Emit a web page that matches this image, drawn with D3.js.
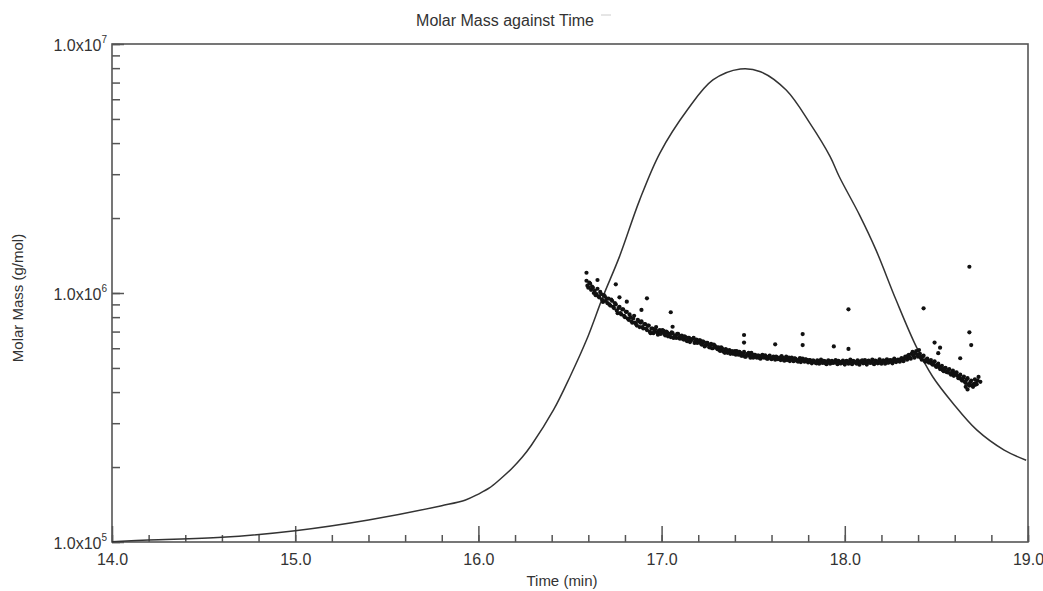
<!DOCTYPE html>
<html>
<head>
<meta charset="utf-8">
<title>Molar Mass against Time</title>
<style>
  body { margin: 0; background: #fff; }
  text { font-family: "Liberation Sans", Arial, sans-serif; fill: #333; }
  .axis path { display: none; }
  .axis line { stroke: #555; stroke-width: 1.5; }
</style>
</head>
<body>
<script src="https://cdn.jsdelivr.net/npm/d3@7"></script>
<script>
// chart titles
var chartTitle = "Molar Mass against Time";
var xLabel = "Time (min)";
var yLabel = "Molar Mass (g/mol)";

// axis ticks
var xTickValues = [14, 15, 16, 17, 18, 19];
var yTickExponents = [5, 6, 7];

// detector trace, time (min) and molar mass scale (g/mol)
var traceTime = [14.0, 14.2, 14.6, 15.0, 15.4, 15.8, 15.93, 16.0, 16.06, 16.12, 16.18, 16.24, 16.29, 16.41,
  16.50, 16.59, 16.68, 16.77, 16.88, 16.99, 17.14, 17.28, 17.43, 17.54, 17.68, 17.81, 17.92, 17.97,
  18.08, 18.17, 18.28, 18.39, 18.48, 18.59, 18.72, 18.87, 18.99];
var traceMass = [1.003e5, 1.019e5, 1.044e5, 1.11e5, 1.226e5, 1.399e5, 1.475e5, 1.558e5, 1.648e5, 1.791e5,
  1.965e5, 2.194e5, 2.453e5, 3.39e5, 4.61e5, 6.47e5, 9.67e5, 1.40e6, 2.36e6, 3.64e6, 5.43e6, 7.17e6,
  7.94e6, 7.74e6, 6.53e6, 4.80e6, 3.53e6, 2.93e6, 2.06e6, 1.49e6, 9.37e5, 6.09e5, 4.61e5, 3.61e5,
  2.82e5, 2.34e5, 2.13e5];

// molar mass points: [time (min), molar mass in units of 1e5 g/mol]
var massPoints = [
  [16.59, 11.2], [16.60, 10.5], [16.61, 10.9], [16.62, 10.6], [16.63, 10.0], [16.64, 9.8], [16.65, 10.4],
  [16.66, 9.6], [16.67, 9.9], [16.68, 9.2], [16.69, 9.7], [16.70, 9.5],
  [16.71, 9.5], [16.72, 8.9], [16.73, 9.3], [16.74, 8.7], [16.75, 9.0], [16.76, 8.3], [16.77, 8.8],
  [16.78, 8.2], [16.79, 8.6], [16.80, 8.0],
  [16.81, 8.4], [16.82, 7.8], [16.83, 8.0], [16.84, 7.6], [16.85, 8.1], [16.86, 7.5], [16.87, 7.8],
  [16.88, 7.3], [16.89, 7.7], [16.90, 7.2],
  [16.91, 7.5], [16.92, 7.1], [16.93, 7.4], [16.94, 6.9], [16.95, 7.2], [16.96, 7.0], [16.97, 7.3],
  [16.98, 6.8], [16.99, 7.1], [17.00, 6.95],
  [17.01, 7.05], [17.02, 6.75], [17.03, 6.95], [17.04, 6.85], [17.05, 6.65], [17.06, 6.9], [17.07, 6.7],
  [17.08, 6.6], [17.09, 6.85], [17.10, 6.55],
  [17.11, 6.75], [17.12, 6.5], [17.13, 6.65], [17.14, 6.4], [17.15, 6.6], [17.16, 6.45], [17.17, 6.55],
  [17.18, 6.3], [17.19, 6.5], [17.20, 6.35],
  [17.21, 6.45], [17.22, 6.2], [17.23, 6.35], [17.24, 6.15], [17.25, 6.3], [17.26, 6.05], [17.27, 6.25],
  [17.28, 6.0], [17.29, 6.15], [17.30, 6.05],
  [17.31, 6.05], [17.32, 5.85], [17.33, 6.0], [17.34, 5.8], [17.35, 5.95], [17.36, 5.75], [17.37, 5.9],
  [17.38, 5.8], [17.39, 5.7], [17.40, 5.85],
  [17.41, 5.85], [17.42, 5.65], [17.43, 5.75], [17.44, 5.6], [17.45, 5.8], [17.46, 5.55], [17.47, 5.7],
  [17.48, 5.6], [17.49, 5.75], [17.50, 5.5],
  [17.51, 5.65], [17.52, 5.5], [17.53, 5.6], [17.54, 5.45], [17.55, 5.65], [17.56, 5.5], [17.57, 5.55],
  [17.58, 5.45], [17.59, 5.6], [17.60, 5.42],
  [17.61, 5.55], [17.62, 5.4], [17.63, 5.52], [17.64, 5.45], [17.65, 5.38], [17.66, 5.5], [17.67, 5.35],
  [17.68, 5.55], [17.69, 5.42], [17.70, 5.33],
  [17.71, 5.5], [17.72, 5.32], [17.73, 5.45], [17.74, 5.35], [17.75, 5.42], [17.76, 5.28], [17.77, 5.45],
  [17.78, 5.3], [17.79, 5.4], [17.80, 5.26],
  [17.81, 5.38], [17.82, 5.22], [17.83, 5.35], [17.84, 5.25], [17.85, 5.36], [17.86, 5.2], [17.87, 5.4],
  [17.88, 5.24], [17.89, 5.33], [17.90, 5.18],
  [17.91, 5.36], [17.92, 5.2], [17.93, 5.34], [17.94, 5.25], [17.95, 5.38], [17.96, 5.18], [17.97, 5.3],
  [17.98, 5.22], [17.99, 5.35], [18.00, 5.16],
  [18.01, 5.34], [18.02, 5.2], [18.03, 5.4], [18.04, 5.18], [18.05, 5.32], [18.06, 5.25], [18.07, 5.37],
  [18.08, 5.15], [18.09, 5.33], [18.10, 5.22],
  [18.11, 5.38], [18.12, 5.16], [18.13, 5.35], [18.14, 5.24], [18.15, 5.4], [18.16, 5.18], [18.17, 5.34],
  [18.18, 5.22], [18.19, 5.42], [18.20, 5.2],
  [18.21, 5.36], [18.22, 5.2], [18.23, 5.42], [18.24, 5.26], [18.25, 5.38], [18.26, 5.22], [18.27, 5.45],
  [18.28, 5.28], [18.29, 5.4], [18.30, 5.3],
  [18.31, 5.48], [18.32, 5.32], [18.33, 5.55], [18.34, 5.4], [18.35, 5.65], [18.36, 5.45], [18.37, 5.8],
  [18.38, 5.5], [18.39, 5.85], [18.40, 5.55],
  [18.41, 5.7], [18.42, 5.4], [18.43, 5.6], [18.44, 5.3], [18.45, 5.45], [18.46, 5.25], [18.47, 5.38],
  [18.48, 5.15], [18.49, 5.32], [18.50, 5.05],
  [18.51, 5.2], [18.52, 4.95], [18.53, 5.1], [18.54, 4.85], [18.55, 5.0], [18.56, 4.8], [18.57, 4.95],
  [18.58, 4.7], [18.59, 4.88], [18.60, 4.7],
  [18.61, 4.8], [18.62, 4.55], [18.63, 4.7], [18.64, 4.45], [18.65, 4.62], [18.66, 4.35], [18.67, 4.55],
  [18.68, 4.25], [18.69, 4.45], [18.70, 4.2],
  [18.71, 4.5], [18.72, 4.3], [18.73, 4.6], [18.74, 4.4]
];

// second detector slice, offset by half a step, same units
var massPointsB = [
  [16.595, 10.7], [16.605, 11.0], [16.615, 10.3], [16.625, 10.5], [16.635, 10.2], [16.645, 9.9],
  [16.655, 9.7], [16.665, 10.1], [16.675, 9.4], [16.685, 9.8], [16.695, 9.3], [16.705, 9.1],
  [16.715, 9.0], [16.725, 9.4], [16.735, 8.8], [16.745, 9.1], [16.755, 8.5], [16.765, 8.7],
  [16.775, 8.3], [16.785, 8.6], [16.795, 8.1], [16.805, 8.4],
  [16.815, 7.9], [16.825, 8.2], [16.835, 7.7], [16.845, 7.9], [16.855, 7.6], [16.865, 7.4],
  [16.875, 7.7], [16.885, 7.6], [16.895, 7.3], [16.905, 7.5],
  [16.915, 7.2], [16.925, 7.4], [16.935, 7.0], [16.945, 7.2], [16.955, 6.9], [16.965, 7.15],
  [16.975, 6.95], [16.985, 7.05], [16.995, 6.85], [17.005, 7.1],
  [17.015, 6.85], [17.025, 7.0], [17.035, 6.7], [17.045, 6.8], [17.055, 6.95], [17.065, 6.6],
  [17.075, 6.75], [17.085, 6.85], [17.095, 6.6], [17.105, 6.7],
  [17.115, 6.55], [17.125, 6.7], [17.135, 6.45], [17.145, 6.6], [17.155, 6.35], [17.165, 6.5],
  [17.175, 6.6], [17.185, 6.4], [17.195, 6.3], [17.205, 6.45],
  [17.215, 6.25], [17.225, 6.4], [17.235, 6.1], [17.245, 6.3], [17.255, 6.2], [17.265, 6.15],
  [17.275, 6.0], [17.285, 6.2], [17.295, 6.05], [17.305, 5.95],
  [17.315, 5.9], [17.325, 6.05], [17.335, 5.85], [17.345, 5.75], [17.355, 5.9], [17.365, 5.8],
  [17.375, 5.7], [17.385, 5.85], [17.395, 5.75], [17.405, 5.65],
  [17.415, 5.7], [17.425, 5.8], [17.435, 5.6], [17.445, 5.7], [17.455, 5.55], [17.465, 5.65],
  [17.475, 5.75], [17.485, 5.5], [17.495, 5.6], [17.505, 5.65],
  [17.515, 5.55], [17.525, 5.6], [17.535, 5.48], [17.545, 5.58], [17.555, 5.52], [17.565, 5.62],
  [17.575, 5.45], [17.585, 5.55], [17.595, 5.5], [17.605, 5.48],
  [17.615, 5.48], [17.625, 5.55], [17.635, 5.42], [17.645, 5.5], [17.655, 5.58], [17.665, 5.4],
  [17.675, 5.48], [17.685, 5.38], [17.695, 5.5], [17.705, 5.45],
  [17.715, 5.4], [17.725, 5.46], [17.735, 5.36], [17.745, 5.3], [17.755, 5.48], [17.765, 5.38],
  [17.775, 5.34], [17.785, 5.42], [17.795, 5.32], [17.805, 5.38],
  [17.815, 5.3], [17.825, 5.35], [17.835, 5.28], [17.845, 5.22], [17.855, 5.32], [17.865, 5.3],
  [17.875, 5.26], [17.885, 5.34], [17.895, 5.22], [17.905, 5.3],
  [17.915, 5.28], [17.925, 5.32], [17.935, 5.24], [17.945, 5.3], [17.955, 5.26], [17.965, 5.34],
  [17.975, 5.22], [17.985, 5.28], [17.995, 5.24], [18.005, 5.3],
  [18.015, 5.26], [18.025, 5.3], [18.035, 5.22], [18.045, 5.34], [18.055, 5.28], [18.065, 5.2],
  [18.075, 5.3], [18.085, 5.26], [18.095, 5.36], [18.105, 5.24],
  [18.115, 5.28], [18.125, 5.32], [18.135, 5.26], [18.145, 5.3], [18.155, 5.22], [18.165, 5.35],
  [18.175, 5.27], [18.185, 5.3], [18.195, 5.24], [18.205, 5.32],
  [18.215, 5.3], [18.225, 5.34], [18.235, 5.25], [18.245, 5.36], [18.255, 5.3], [18.265, 5.38],
  [18.275, 5.32], [18.285, 5.36], [18.295, 5.34], [18.305, 5.42],
  [18.315, 5.38], [18.325, 5.45], [18.335, 5.5], [18.345, 5.6], [18.355, 5.5], [18.365, 5.7],
  [18.375, 5.6], [18.385, 5.75], [18.395, 5.65], [18.405, 5.9],
  [18.415, 5.5], [18.425, 5.55], [18.435, 5.35], [18.445, 5.4], [18.455, 5.3], [18.465, 5.28],
  [18.475, 5.2], [18.485, 5.25], [18.495, 5.1], [18.505, 5.15],
  [18.515, 5.05], [18.525, 5.0], [18.535, 4.9], [18.545, 4.98], [18.555, 4.82], [18.565, 4.9],
  [18.575, 4.75], [18.585, 4.8], [18.595, 4.65], [18.605, 4.78],
  [18.615, 4.65], [18.625, 4.6], [18.635, 4.5], [18.645, 4.55], [18.655, 4.4], [18.665, 4.48],
  [18.675, 4.3], [18.685, 4.38], [18.695, 4.25], [18.705, 4.32],
  [18.715, 4.35], [18.725, 4.45]
];

// stray points away from the main band, same units
var strayPoints = [
  [16.59, 12.06], [16.65, 11.28], [16.75, 10.84], [16.77, 9.61], [16.81, 9.23], [16.89, 8.55],
  [16.92, 9.52], [17.05, 8.37], [17.06, 7.32], [17.45, 6.78], [17.45, 6.32], [17.62, 6.22],
  [17.77, 6.84], [17.77, 6.18], [17.94, 6.10], [18.02, 8.60], [18.02, 5.96], [18.43, 8.68],
  [18.49, 6.32], [18.52, 6.03], [18.51, 5.73], [18.63, 5.47], [18.68, 6.95], [18.69, 6.18],
  [18.68, 12.75], [18.66, 4.20], [18.67, 4.10], [18.71, 4.27]
];

var width = 1043, height = 591;
var margin = { top: 44, right: 15, bottom: 49, left: 112 };

var svg = d3.select("body").append("svg")
  .attr("width", width)
  .attr("height", height);

var x = d3.scaleLinear().domain([14, 19]).range([margin.left, width - margin.right]);
var y = d3.scaleLog().domain([1e5, 1e7]).range([height - margin.bottom, margin.top]);

var plotBottom = height - margin.bottom;

// x axis: minor then major ticks, pointing into the plot
svg.append("g")
  .attr("class", "axis")
  .attr("transform", "translate(0," + plotBottom + ")")
  .call(d3.axisBottom(x).ticks(25).tickSize(-7).tickSizeOuter(0).tickFormat(""));

svg.append("g")
  .attr("class", "axis")
  .attr("transform", "translate(0," + plotBottom + ")")
  .call(d3.axisBottom(x).tickValues(xTickValues).tickSize(-16).tickSizeOuter(0)
    .tickPadding(12).tickFormat(d3.format(".1f")))
  .selectAll("text")
  .style("font-size", "16px")
  .style("fill", "#333");

// y axis
svg.append("g")
  .attr("class", "axis")
  .attr("transform", "translate(" + margin.left + ",0)")
  .call(d3.axisLeft(y).ticks(10).tickSize(-8).tickSizeOuter(0).tickFormat(""));

svg.append("g")
  .attr("class", "axis")
  .attr("transform", "translate(" + margin.left + ",0)")
  .call(d3.axisLeft(y).tickValues(yTickExponents.map(function(e) { return Math.pow(10, e); }))
    .tickSize(-12).tickSizeOuter(0).tickFormat(""));

// y tick labels as 1.0x10^n
var yLab = svg.append("g").selectAll("text")
  .data(yTickExponents)
  .enter().append("text")
  .attr("x", margin.left - 5)
  .attr("y", function(d) { return y(Math.pow(10, d)) + 7; })
  .style("text-anchor", "end")
  .style("font-size", "16px");
yLab.append("tspan").text("1.0x10");
yLab.append("tspan")
  .attr("dy", -8)
  .style("font-size", "10px")
  .text(function(d) { return d; });

// frame
svg.append("rect")
  .attr("x", margin.left)
  .attr("y", margin.top)
  .attr("width", width - margin.right - margin.left)
  .attr("height", plotBottom - margin.top)
  .attr("fill", "none")
  .attr("stroke", "#555")
  .attr("stroke-width", 1.6);

// trace line
var trace = traceTime.map(function(t, i) { return [t, traceMass[i]]; });
var line = d3.line()
  .x(function(d) { return x(d[0]); })
  .y(function(d) { return y(d[1]); })
  .curve(d3.curveCatmullRom.alpha(0.5));

svg.append("path")
  .datum(trace)
  .attr("d", line)
  .attr("fill", "none")
  .attr("stroke", "#333")
  .attr("stroke-width", 1.5);

// molar mass points
svg.append("g").selectAll("circle")
  .data(massPoints.concat(massPointsB, strayPoints))
  .enter().append("circle")
  .attr("cx", function(d) { return x(d[0]); })
  .attr("cy", function(d) { return y(d[1] * 1e5); })
  .attr("r", 2.1)
  .attr("fill", "#111");

// titles
svg.append("text")
  .attr("x", 505)
  .attr("y", 26)
  .style("text-anchor", "middle")
  .style("font-size", "16px")
  .text(chartTitle);

svg.append("line")
  .attr("x1", 601).attr("x2", 611)
  .attr("y1", 15).attr("y2", 15)
  .attr("stroke", "#ccc")
  .attr("stroke-width", 1);

svg.append("text")
  .attr("x", 562)
  .attr("y", 586)
  .style("text-anchor", "middle")
  .style("font-size", "15px")
  .text(xLabel);

svg.append("text")
  .attr("transform", "rotate(-90)")
  .attr("x", -298)
  .attr("y", 23)
  .style("text-anchor", "middle")
  .style("font-size", "15px")
  .text(yLabel);
</script>
</body>
</html>
